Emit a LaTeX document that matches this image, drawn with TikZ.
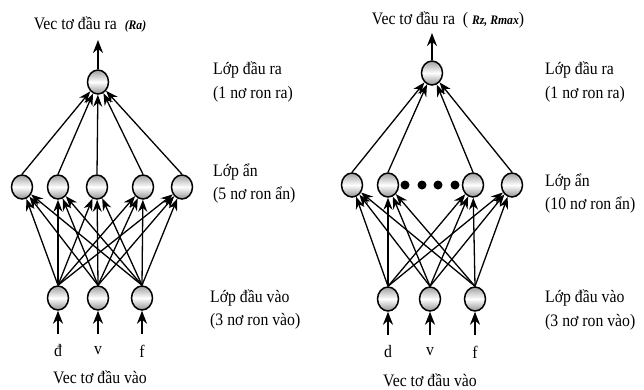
\documentclass[tikz,border=0pt]{standalone}
\usepackage{fontspec}
\setmainfont[FakeStretch=0.9]{Liberation Serif}
\usetikzlibrary{arrows.meta,shapes.geometric}
\begin{document}
\begin{tikzpicture}[x=1pt,y=-1pt,
 neuron/.style={ellipse, draw, line width=1.5pt, minimum width=21pt, minimum height=24pt, inner sep=0pt, top color=gray!75, bottom color=gray!85, middle color=white},
 conn/.style={-{Stealth[length=12pt,width=9pt]}, line width=1.3pt},
 outarr/.style={-{Stealth[length=13pt,width=10pt]}, line width=2.4pt},
 lbl/.style={font=\fontsize{17.5}{20}\selectfont, anchor=west, inner sep=0pt},
 txt/.style={font=\fontsize{17.5}{20}\selectfont, inner sep=0pt},
 dotn/.style={circle, fill=black, minimum size=9pt, inner sep=0pt}]
\useasboundingbox (0,0) rectangle (644,389);
% ---------- left network ----------
\node[neuron] (Lo) at (98,82) {};
\foreach \i/\x in {1/22,2/58,3/97,4/143,5/182}
  \node[neuron] (Lh\i) at (\x,187) {};
\foreach \i/\x in {1/58,2/98,3/142}
  \node[neuron] (Li\i) at (\x,298) {};
\foreach \i in {1,...,3}
  \foreach \j in {1,...,5}
    \draw[conn] (Li\i.north) -- (Lh\j);
\foreach \j in {1,...,5}
  \draw[conn] (Lh\j.north) -- (Lo);
\coordinate (Lout) at (98,40);
\draw[outarr] (Lo.north) -- (Lout);
\foreach \i/\x/\t in {1/58/đ,2/98/v,3/142/f}{
  \coordinate (Ls\i) at (\x,334);
  \draw[outarr] (Ls\i) -- (Li\i.south);
  \node[txt] (Lt\i) at (\x,351) {\t};
}
\node[txt] (Ltitle) at (90,25) {Vec tơ đầu ra\ \ {\fontsize{13}{15}\selectfont\bfseries\itshape(Ra)}};
\node[txt] (Lin) at (100,377) {Vec tơ đầu vào};
\node[lbl] (La1) at (213,70) {Lớp đầu ra};
\node[lbl] (La2) at (213,94) {(1 nơ ron ra)};
\node[lbl] (Lb1) at (213,172) {Lớp ẩn};
\node[lbl] (Lb2) at (213,195) {(5 nơ ron ẩn)};
\node[lbl] (Lc1) at (210,298) {Lớp đầu vào};
\node[lbl] (Lc2) at (210,321) {(3 nơ ron vào)};
% ---------- right network ----------
\node[neuron] (Ro) at (432,73) {};
\foreach \i/\x in {1/352,2/388,3/473,4/512}
  \node[neuron] (Rh\i) at (\x,185) {};
\foreach \i/\x in {1/405,2/422,3/438,4/455}
  \node[dotn] (Rd\i) at (\x,185) {};
\foreach \i/\x in {1/388,2/430,3/475}
  \node[neuron] (Ri\i) at (\x,299) {};
\foreach \i in {1,...,3}
  \foreach \j in {1,...,4}
    \draw[conn] (Ri\i.north) -- (Rh\j);
\foreach \j in {1,...,4}
  \draw[conn] (Rh\j.north) -- (Ro);
\coordinate (Rout) at (432,33);
\draw[outarr] (Ro.north) -- (Rout);
\foreach \i/\x/\t in {1/388/d,2/430/v,3/475/f}{
  \coordinate (Rs\i) at (\x,335);
  \draw[outarr] (Rs\i) -- (Ri\i.south);
  \node[txt] (Rt\i) at (\x,352) {\t};
}
\node[txt] (Rtitle) at (448,20) {Vec tơ đầu ra\ \ ( {\fontsize{13}{15}\selectfont\bfseries\itshape Rz, Rmax})};
\node[txt] (Rin) at (430,380) {Vec tơ đầu vào};
\node[lbl] (Ra1) at (545,70) {Lớp đầu ra};
\node[lbl] (Ra2) at (545,94) {(1 nơ ron ra)};
\node[lbl] (Rb1) at (545,182) {Lớp ẩn};
\node[lbl] (Rb2) at (545,205) {(10 nơ ron ẩn)};
\node[lbl] (Rc1) at (545,298) {Lớp đầu vào};
\node[lbl] (Rc2) at (545,322) {(3 nơ ron vào)};
\end{tikzpicture}
\end{document}
